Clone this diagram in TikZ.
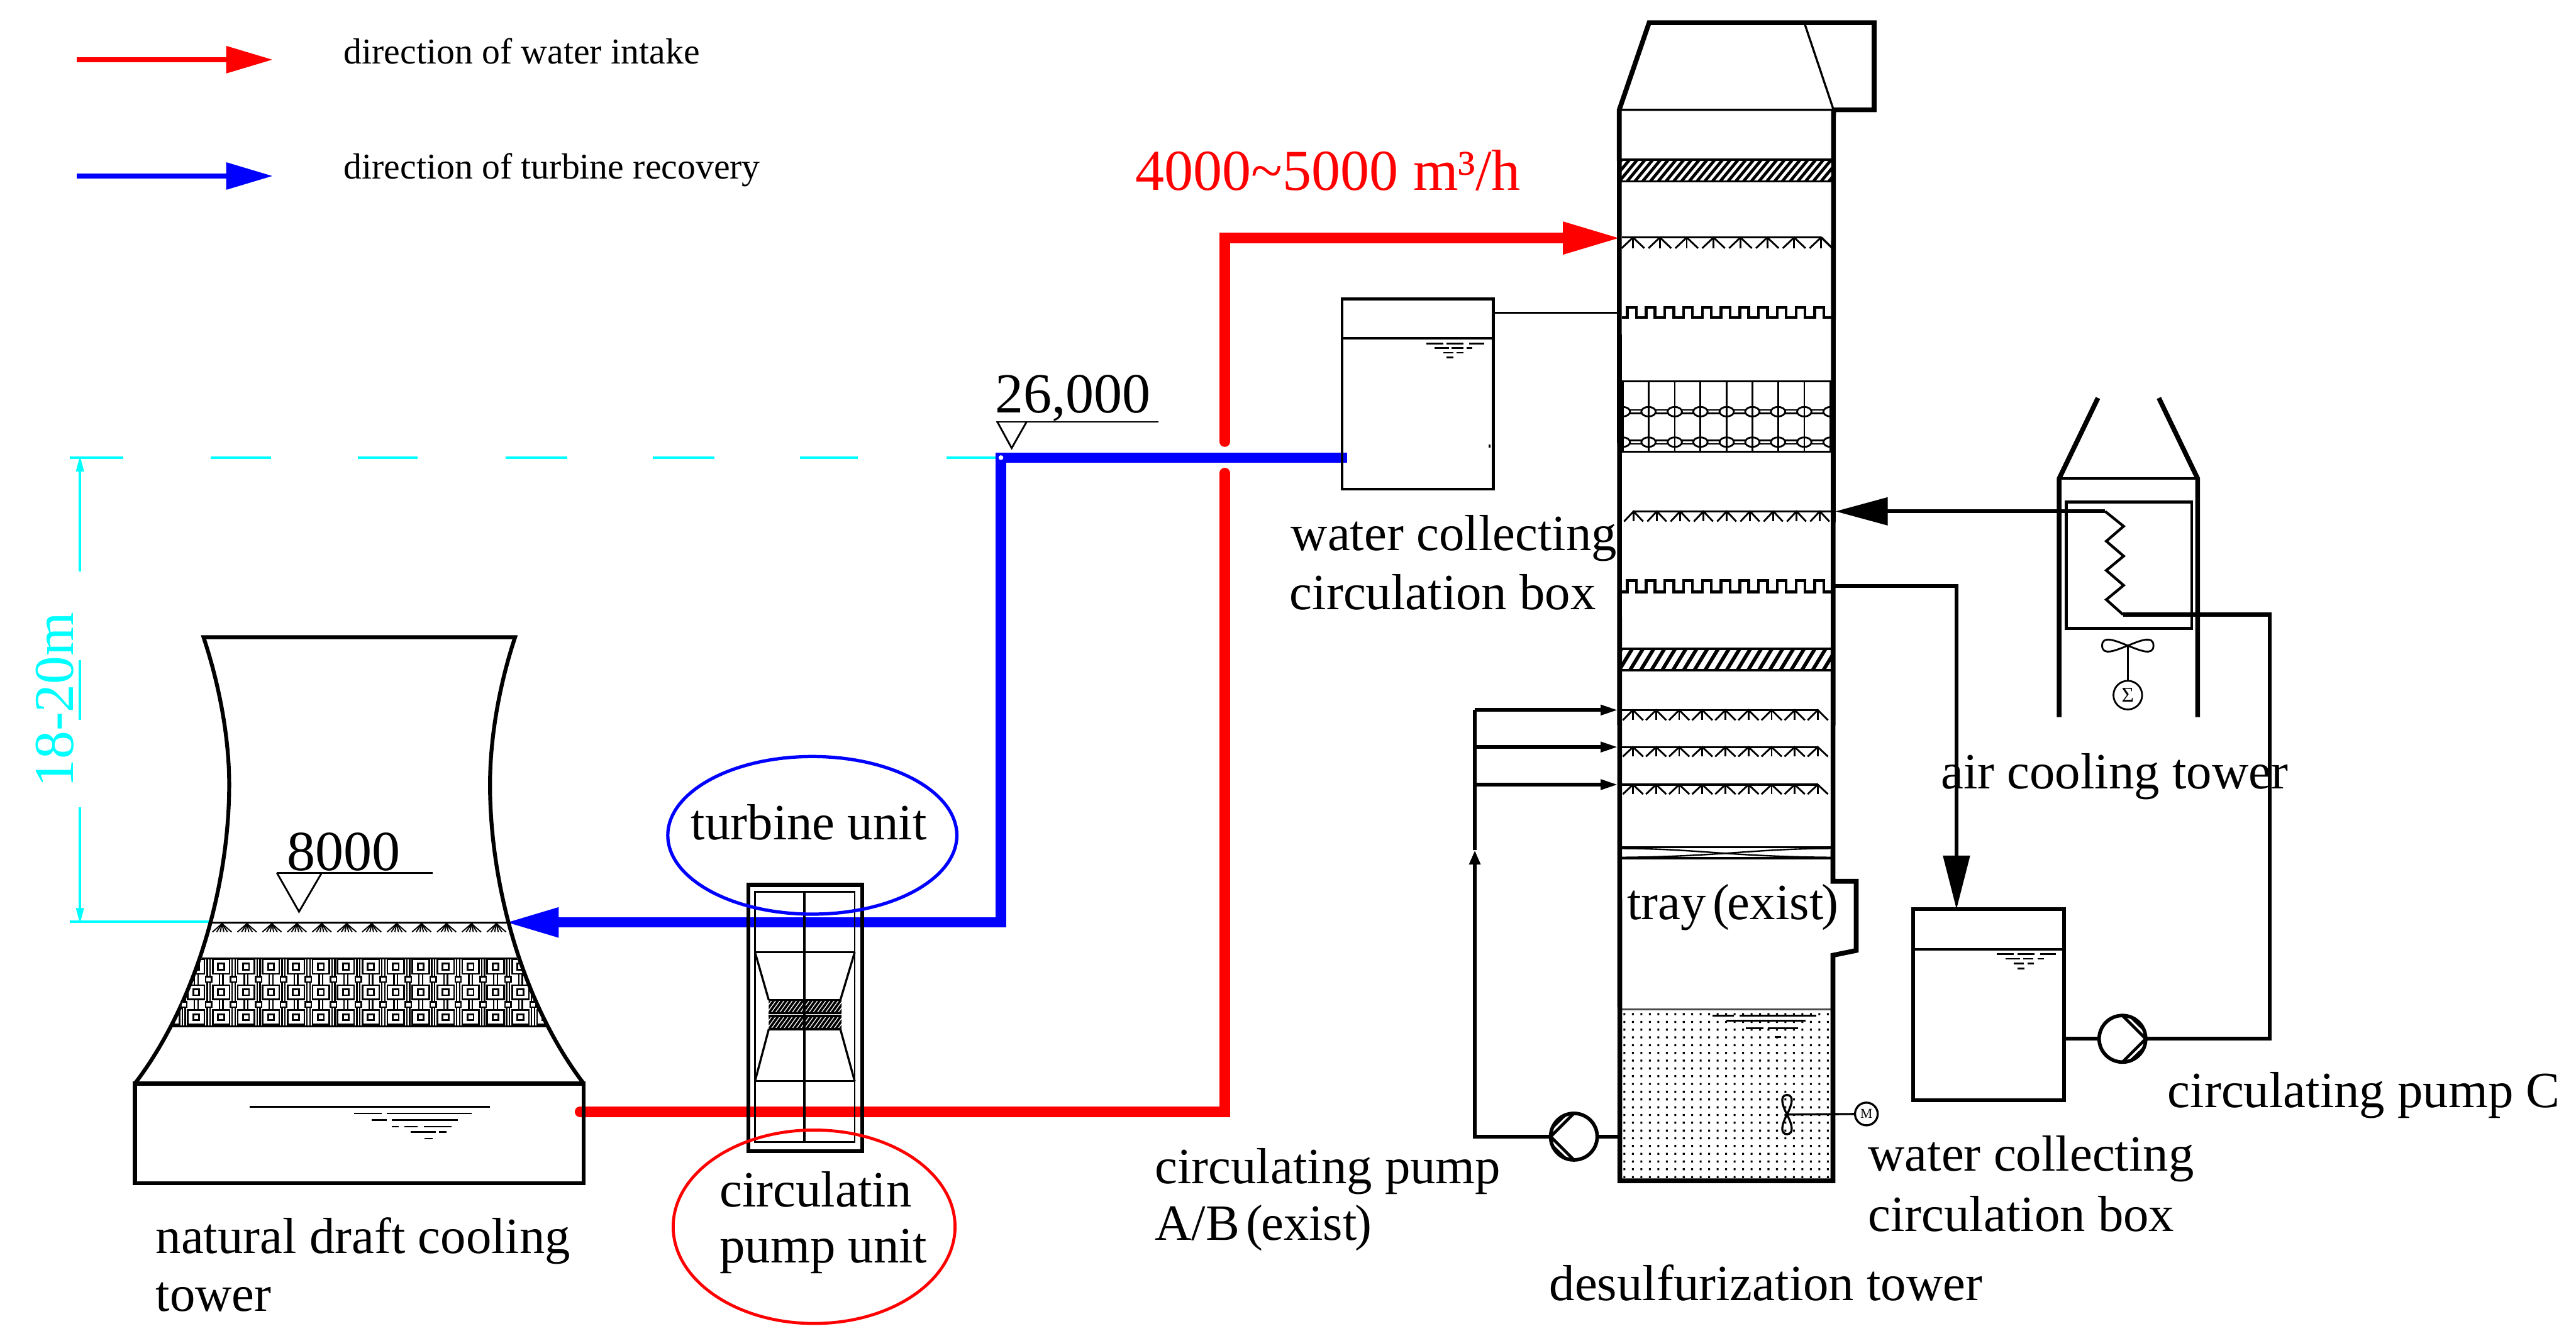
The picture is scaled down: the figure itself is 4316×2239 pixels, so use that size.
\documentclass[tikz,border=0pt]{standalone}
\usepackage{fontspec}
\setmainfont{Liberation Serif}
\usetikzlibrary{arrows.meta,calc}
\definecolor{cy}{RGB}{0,255,255}
\definecolor{rd}{RGB}{255,0,0}
\definecolor{bl}{RGB}{0,0,255}
\tikzset{
  lw/.style={line width=#1*0.2845pt},
  lab/.style={anchor=base west,inner sep=0pt,outer sep=0pt,font=\fontsize{24.2}{28}\selectfont},
  legendtxt/.style={anchor=base west,inner sep=0pt,outer sep=0pt,font=\fontsize{17.3}{20}\selectfont},
  wall/.style={lw=8,black,line join=miter},
  thin line/.style={lw=3,black},
  pipe/.style={lw=6.5,black,line join=miter},
  tank/.style={draw,black,rectangle,inner sep=0pt,outer sep=0pt},
  pump/.style={draw,black,circle,lw=6,fill=white,inner sep=0pt,outer sep=0pt,minimum size=0.78cm},
  redp/.style={lw=18,rd,line join=miter},
  bluep/.style={lw=17,bl,line join=miter},
  cyanl/.style={lw=4,cy},
  wlev/.style={lw=3,black},
}
\newcommand{\sprayrow}[8]{%
  \draw[lw=3.5] (#3,#1) -- (#4,#1);
  \foreach \k in {0,...,#7}{
    \draw[lw=3] ({#5+#6*\k-#8},#2) -- ({#5+#6*\k},#1) -- ({#5+#6*\k+#8},#2);
    \draw[lw=3] ({#5+#6*\k},#1) -- ({#5+#6*\k},#2);
  }}
\newcommand{\combrow}[2]{%
  \draw[lw=4.5] (2717,#2) foreach \k in {0,...,10}{ -- ({2726.5+31.4*\k},#2) -- ({2726.5+31.4*\k},#1) -- ({2726.5+31.4*\k+15},#1) -- ({2726.5+31.4*\k+15},#2)} -- (3070,#2);}
\newcommand{\hatchband}[7]{%
  \begin{scope}
    \clip (#1,#3) rectangle (#2,#4);
    \foreach \k in {-4,...,60}{
      \pgfmathsetmacro{\xq}{#1+#5*\k}
      \pgfmathparse{\xq<#2?1:0}
      \ifnum\pgfmathresult=1
        \draw[lw=#7] (\xq,#4) -- ({\xq+#6},#3);
      \fi
    }
  \end{scope}
  \draw[lw=4] (#1,#3) -- (#2,#3) (#1,#4) -- (#2,#4);}
\begin{document}
\begin{tikzpicture}[x=0.01cm,y=-0.01cm]
\useasboundingbox (0,0) rectangle (4316,2239);
\fill[white] (0,0) rectangle (4316,2239);

%% ---- legend
\coordinate (lr0) at (129,100); \coordinate (lr1) at (457,100);
\coordinate (lb0) at (129,295); \coordinate (lb1) at (457,295);
\draw[lw=8,rd,-{Triangle[length=22.2pt,width=12.5pt]}] (lr0) -- (lr1);
\draw[lw=8,bl,-{Triangle[length=22.2pt,width=12.5pt]}] (lb0) -- (lb1);
\node[legendtxt] (legA) at (576,107) {direction of water intake};
\node[legendtxt] (legB) at (576,300) {direction of turbine recovery};

%% ---- cyan dimension
\foreach \a/\b in {117/207,353/454,600/700,847/950,1094/1197,1340/1437,1586/1677}
  \draw[cyanl] (\a,767) -- (\b,767);
\draw[cyanl] (117,1545) -- (355,1545);
\coordinate (dimT) at (134,763); \coordinate (dimTe) at (134,958);
\coordinate (dimB) at (134,1549); \coordinate (dimBe) at (134,1353);
\draw[cyanl,-{Triangle[length=7.7pt,width=3.6pt]}] (dimTe) -- (dimT);
\draw[cyanl,-{Triangle[length=7.7pt,width=3.6pt]}] (dimBe) -- (dimB);
\draw[cyanl] (134,1106) -- (134,1206);
\node[anchor=base,inner sep=0pt,rotate=90,cy,font=\fontsize{26.8}{30}\selectfont] (dimTxt) at (123,1173) {18-20m};

%% ---- pipes (under the unit)
\coordinate (rs) at (972,1863); \coordinate (rc) at (2052,1863); \coordinate (rg1) at (2052,793);
\coordinate (rg2) at (2052,740); \coordinate (rt) at (2052,399); \coordinate (rtip) at (2717,399);
\draw[redp,line cap=round] (rs) -- (rc) -- (rg1);
\draw[redp,line cap=round,-{Triangle[length=28pt,width=14.2pt]}] (rg2) -- (rt) -- (rtip);

\coordinate (bs) at (2257,767); \coordinate (bc) at (1677,767); \coordinate (bd) at (1677,1546); \coordinate (btip) at (845,1546);
\draw[bluep,-{Triangle[length=25.9pt,width=13pt]}] (bs) -- (bc) -- (bd) -- (btip);
\fill[white] (1677,767) circle (0.04cm);

%% ---- natural draft cooling tower
\coordinate (cL) at (226,1816); \coordinate (cR) at (978,1816);
\draw[lw=6.5] (cL) .. controls (330,1680) and (384,1480) .. (384,1315) .. controls (384,1230) and (365,1140) .. (341,1068) -- (863,1068) .. controls (839,1140) and (821,1230) .. (821,1315) .. controls (821,1480) and (874,1680) .. (cR);
\draw[lw=6.5] (226,1816) rectangle (978,1983);
\draw[lw=3] (355,1546) -- (849,1546);
\foreach \k in {0,...,11}{
  \pgfmathsetmacro{\cx}{372+41.8*\k}
  \foreach \d in {-16,-9,-3,3,9,16}
    \draw[lw=2] (\cx,1548) -- ({\cx+\d},1562);
}
\begin{scope}
  \clip (338,1606) -- (866,1606) -- (915,1720) -- (289,1720) -- cycle;
  \foreach \k in {-3,...,13}{
    \pgfmathsetmacro{\cx}{370.5+41.8*\k}
    \pgfmathsetmacro{\bx}{\cx+20.9}
    \draw[lw=2.4] ({\bx-2.5},1606) -- ({\bx-2.5},1720) ({\bx+2.5},1606) -- ({\bx+2.5},1720);
    \foreach \yy in {1620,1663,1705}{
      \draw[lw=3] ({\cx-5},{\yy-5}) rectangle ({\cx+5},{\yy+5});
      \draw[lw=2.6] ({\cx-14},{\yy-12}) rectangle ({\cx+14},{\yy+12});
    }
    \draw[lw=2.6,fill=white] ({\bx-5},1637) rectangle ({\bx+5},1646);
    \draw[lw=2.6,fill=white] ({\bx-5},1679) rectangle ({\bx+5},1688);
    \draw[lw=2.4] ({\cx-3},1632) -- ({\cx-3},1651) ({\cx+3},1632) -- ({\cx+3},1651) ({\cx-3},1675) -- ({\cx-3},1693) ({\cx+3},1675) -- ({\cx+3},1693);
  }
\end{scope}
\draw[lw=3.5] (338,1606) -- (866,1606) (289,1720) -- (915,1720);
\foreach \a/\b/\y in {418/821/1855,593/640/1866,648/790/1866,623/648/1877,656/767/1877,656/668/1888,678/700/1888,710/757/1888,688/730/1897,735/748/1897,711/725/1908}
  \draw[lw=2.5] (\a,\y) -- (\b,\y);
\draw[thin line] (464,1463) -- (725,1463);
\draw[lw=3] (464,1463) -- (501,1528) -- (539,1463);
\node[lab,font=\fontsize{27}{30}\selectfont] (lvlA) at (481,1459) {8000};

%% ---- elevation mark
\draw[thin line] (1669,707) -- (1941,707);
\draw[lw=3] (1671,707) -- (1695,751) -- (1720,707);
\node[lab,font=\fontsize{27}{30}\selectfont] (lvlB) at (1667,692) {26,000};

%% ---- turbine / pump unit
\draw[lw=6.5] (1254,1483) rectangle (1445,1929);
\draw[lw=3] (1265,1495) rectangle (1432,1914);
\draw[lw=4.5] (1348,1495) -- (1348,1914);
\draw[lw=3] (1265,1596) -- (1432,1596) (1265,1812) -- (1432,1812);
\draw[lw=3.5] (1265,1596) -- (1288,1676) (1432,1596) -- (1408,1676) (1265,1812) -- (1288,1725) (1432,1812) -- (1408,1725);
\hatchband{1288}{1410}{1676}{1698}{7}{16}{4}
\hatchband{1288}{1410}{1703}{1725}{7}{16}{4}
\draw[lw=5.5,bl] (1361,1400) ellipse (2.42cm and 1.32cm);
\draw[lw=5,rd] (1364,2056) ellipse (2.36cm and 1.62cm);
\node[lab] (lTurb) at (1158,1407) {turbine unit};
\node[lab] (lCp1) at (1206,2023) {circulatin};
\node[lab] (lCp2) at (1206,2116) {pump unit};

%% ---- tank A
\node[tank,lw=4.5,minimum width=2.53cm,minimum height=3.19cm] (tankA) at (2375.5,660.5) {};
\draw[lw=4] (tankA.west |- 0,567) -- (tankA.east |- 0,567);
\foreach \a/\b/\y in {2390/2418/576,2424/2452/576,2461/2487/576,2404/2428/583,2432/2452/583,2457/2467/583,2418/2435/591,2440/2452/591,2424/2435/599}
  \draw[lw=2.8] (\a,\y) -- (\b,\y);
\fill (2494,745) rectangle (2497,750);
\coordinate (wallA) at (2713,524);
\draw[lw=3.5] (tankA.east |- wallA) -- (wallA);
\node[lab] (lwA1) at (2163,923) {water collecting};
\node[lab] (lwA2) at (2161,1022) {circulation box};

%% ---- desulfurization tower internals
\hatchband{2713}{3072}{268}{304}{13}{30}{5}
\hatchband{2713}{3072}{1087}{1123}{18}{22}{6}
\sprayrow{398}{416}{2717}{3052}{2736}{45}{7}{19}
\draw[lw=3] (3052,398) -- (3070,416);
\combrow{515}{532}
\combrow{973}{992}
% packing
\begin{scope}
  \clip (2713,639) rectangle (3072,757);
  \foreach \yy in {690,741}{
    \draw[lw=2.6] (2713,{\yy-3}) -- (3072,{\yy-3}) (2713,{\yy+3}) -- (3072,{\yy+3});
    \foreach \xx in {2719,2762,2806,2849,2893,2936,2979,3023,3067}
      \draw[lw=3,fill=white] (\xx,\yy) ellipse (0.12cm and 0.08cm);
  }
  \foreach \xx in {2719,2762,2806,2849,2893,2936,2979,3023,3067}
    \draw[lw=3] (\xx,639) -- (\xx,757);
\end{scope}
\draw[lw=3.5] (2713,639) -- (3072,639) (2713,757) -- (3072,757);
\sprayrow{857}{874}{2737}{3070}{2737}{39}{8}{16}
\sprayrow{1190}{1207}{2717}{3046}{2736}{38.7}{8}{17}
\sprayrow{1252}{1268}{2717}{3046}{2736}{38.7}{8}{17}
\sprayrow{1315}{1331}{2717}{3046}{2736}{38.7}{8}{17}
% tray
\draw[lw=3] (2713,1420) -- (3072,1420);
\draw[lw=4] (2713,1438) -- (3072,1438);
\draw[lw=2.5] (2713,1422) .. controls (2840,1422) and (2900,1436) .. (3072,1437);
\draw[lw=2.5] (2713,1437) .. controls (2880,1436) and (2940,1422) .. (3072,1422);
% slurry
\fill[black] foreach \i in {0,...,24}{ foreach \j in {0,...,21}{ ({2720+14.2*\i},{1698+13*\j}) rectangle +(3.2,3.4) } };
\draw[lw=3.5,black!70] (2717,1692) -- (3069,1692);
\foreach \a/\b/\y in {2869/2905/1702,2915/3043/1702,2892/3025/1711,2925/2955/1723,2962/3012/1723,2974/2984/1738}
  \draw[lw=2.8] (\a,\y) -- (\b,\y);
% agitator
\node[circle,draw,lw=3.5,inner sep=0pt,outer sep=0pt,minimum size=0.38cm,font=\fontsize{6.5}{7}\selectfont] (mot) at (3127,1867) {M};
\coordinate (agi) at (2994,1868);
\draw[lw=3.5] (agi) .. controls (2985,1850) and (2982,1836) .. (2994,1835) .. controls (3006,1836) and (3003,1850) .. (agi) .. controls (2985,1885) and (2982,1900) .. (2994,1901) .. controls (3006,1900) and (3003,1885) .. (agi);
\draw[lw=3.5] (agi) -- (mot.west);
% shell
\draw[wall] (3072,184) -- (3071,1477) -- (3110,1477) -- (3110,1593) -- (3071,1601) -- (3071,1979) -- (2714,1979) -- (2713,184) -- (2763,38) -- (3140,38) -- (3140,184) -- (3072,184);
\draw[lw=3.5] (2713,184) -- (3072,184) -- (3023,38);

%% ---- pump A/B and its pipes
\node[pump] (pumpAB) at (2637,1905) {};
\coordinate (abW) at (2714,1905);
\draw[pipe] (pumpAB.east) -- (abW);
\draw[lw=5] (pumpAB.north) -- (pumpAB.west) -- (pumpAB.south);
\draw[lw=2.5] ($(pumpAB.north)+(-11,1)$) -- ($(pumpAB.west)+(0,-11)$);
\draw[lw=2.5] ($(pumpAB.south)+(-11,-1)$) -- ($(pumpAB.west)+(0,11)$);
\coordinate (pX) at (2471,1905); \coordinate (pU) at (2471,1190);
\coordinate (s1) at (2711,1190); \coordinate (s2) at (2711,1252); \coordinate (s3) at (2711,1315);
\coordinate (j2) at (2471,1252); \coordinate (j3) at (2471,1315); \coordinate (ah) at (2471,1425);
\draw[pipe,-{Triangle[length=6.8pt,width=5.1pt]}] (pumpAB.west) -- (pX) -- (ah);
\draw[pipe] (ah) -- (pU);
\draw[pipe,-{Triangle[length=8.3pt,width=4.6pt]}] (pU) -- (s1);
\draw[pipe,-{Triangle[length=8.3pt,width=4.6pt]}] (j2) -- (s2);
\draw[pipe,-{Triangle[length=8.3pt,width=4.6pt]}] (j3) -- (s3);

%% ---- air cooling tower
\draw[wall] (3617,667) -- (3682,802) -- (3682,1202);
\draw[wall] (3515,667) -- (3450,802) -- (3450,1202);
\draw[lw=3.5] (3450,802) -- (3682,802);
\draw[lw=5] (3462,841) rectangle (3672,1053);
\coordinate (coilA) at (3527,857); \coordinate (coilB) at (3557,1030);
\draw[lw=4.5] (coilA) -- (3558,882) -- (3529,907) -- (3558,932) -- (3529,956) -- (3558,981) -- (3529,1005) -- (coilB);
\coordinate (fan) at (3565,1082);
\draw[lw=3] (fan) .. controls (3545,1074) and (3522,1064) .. (3522,1082) .. controls (3522,1100) and (3545,1090) .. (fan) .. controls (3585,1074) and (3608,1064) .. (3608,1082) .. controls (3608,1100) and (3585,1090) .. (fan);
\node[circle,draw,lw=3,inner sep=0pt,outer sep=0pt,minimum size=0.48cm,font=\fontsize{10}{11}\selectfont] (sig) at (3565,1165) {Σ};
\draw[lw=3.5] (fan) -- (sig.north);
\coordinate (towR) at (3075,857);
\draw[pipe,-{Triangle[length=25pt,width=13pt]}] (coilA) -- (towR);

%% ---- tank C and pump C
\node[tank,lw=6.5,minimum width=2.525cm,minimum height=3.2cm] (tankC) at (3331.75,1684) {};
\draw[lw=4.5] (tankC.west |- 0,1591) -- (tankC.east |- 0,1591);
\foreach \a/\b/\y in {3346/3374/1599,3380/3409/1599,3418/3445/1599,3360/3384/1607,3390/3407/1607,3414/3424/1607,3374/3391/1615,3397/3408/1615,3380/3392/1623}
  \draw[lw=2.8] (\a,\y) -- (\b,\y);
\coordinate (cmb) at (3072,982); \coordinate (cmbC) at (3278,982);
\coordinate (tankIn) at (3278,1524);
\draw[pipe,-{Triangle[length=25.6pt,width=12.5pt]}] (cmb) -- (cmbC) -- (tankIn);
\node[pump] (pumpC) at (3556,1741) {};
\draw[pipe] (tankC.east |- pumpC) -- (pumpC.west);
\draw[lw=5] (pumpC.north) -- (pumpC.east) -- (pumpC.south);
\draw[lw=2.5] ($(pumpC.north)+(11,1)$) -- ($(pumpC.east)+(0,-11)$);
\draw[lw=2.5] ($(pumpC.south)+(11,-1)$) -- ($(pumpC.east)+(0,11)$);
\coordinate (cC) at (3803,1741); \coordinate (cD) at (3803,1030);
\draw[pipe] (pumpC.east) -- (cC) -- (cD) -- (coilB);

%% ---- labels
\node[anchor=base west,inner sep=0pt,rd,font=\fontsize{27.6}{30}\selectfont] (flow) at (1902,319) {4000\textasciitilde 5000 m³/h};
\node[lab] (lNat1) at (261,2101) {natural draft cooling};
\node[lab] (lNat2) at (261,2197) {tower};
\node[lab] (lTray) at (2726,1541) {tray\kern.13em(\kern-.04em exist\kern-.04em)};
\node[lab] (lCab1) at (1935,1984) {circulating pump};
\node[lab] (lCab2) at (1935,2078) {A/B\kern.13em(\kern-.04em exist\kern-.04em)};
\node[lab] (lwC1) at (3130,1962) {water collecting};
\node[lab] (lwC2) at (3130,2064) {circulation box};
\node[lab] (lDes) at (2596,2180) {desulfurization tower};
\node[lab] (lAir) at (3252,1322) {air cooling tower};
\node[lab] (lPmC) at (3632,1856) {circulating pump C};
\end{tikzpicture}
\end{document}
